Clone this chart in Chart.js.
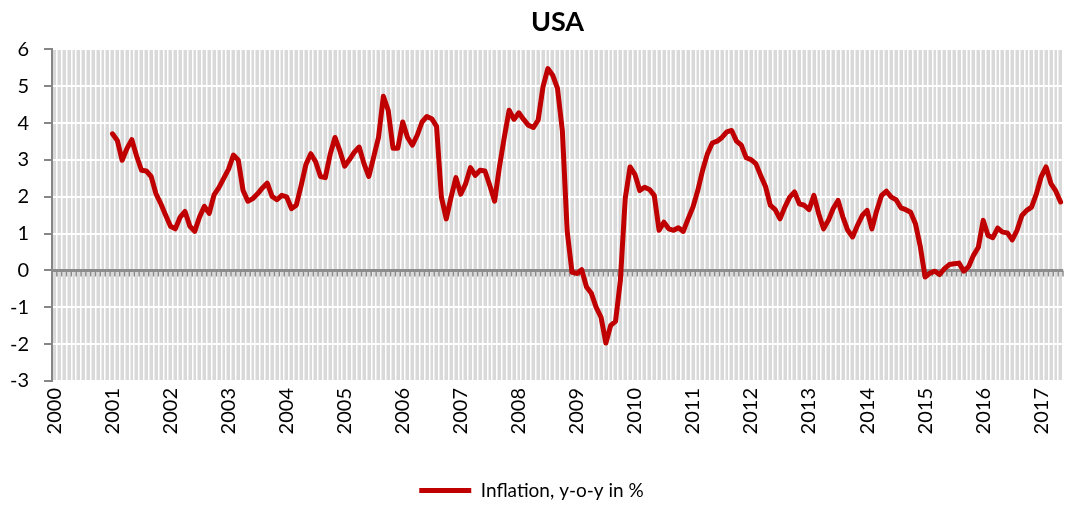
<!DOCTYPE html>
<html lang="en">
<head>
    <meta charset="UTF-8">
    <title>USA Inflation</title>
    <script src="https://cdn.jsdelivr.net/npm/chart.js"></script>
    <style>
        body {
            margin: 0;
            background: #ffffff;
            overflow: hidden;
        }
        canvas {
            display: block;
        }
    </style>
</head>
<body>
    <canvas id="usaChart" width="1065" height="510"></canvas>
    <script>
        // Tick labels: one per January
        const years = ['2000', '2001', '2002', '2003', '2004', '2005', '2006', '2007', '2008',
                       '2009', '2010', '2011', '2012', '2013', '2014', '2015', '2016', '2017'];
        const monthsInLastYear = 5; // series ends May 2017

        // CPI inflation, y-o-y in %, monthly
        const inf2000 = [null, null, null, null, null, null, null, null, null, null, null, null];
        const inf2001 = [3.71, 3.53, 2.99, 3.31, 3.55, 3.10, 2.72, 2.70, 2.55, 2.08, 1.81, 1.50];
        const inf2002 = [1.20, 1.13, 1.45, 1.60, 1.20, 1.06, 1.45, 1.74, 1.55, 2.05, 2.25, 2.50];
        const inf2003 = [2.75, 3.13, 3.00, 2.17, 1.88, 1.95, 2.08, 2.24, 2.37, 2.01, 1.92, 2.04];
        const inf2004 = [2.00, 1.68, 1.77, 2.30, 2.88, 3.17, 2.95, 2.55, 2.52, 3.15, 3.61, 3.25];
        const inf2005 = [2.83, 3.01, 3.21, 3.35, 2.90, 2.55, 3.08, 3.61, 4.73, 4.35, 3.32, 3.32];
        const inf2006 = [4.03, 3.61, 3.40, 3.67, 4.03, 4.18, 4.12, 3.91, 1.99, 1.40, 1.99, 2.52];
        const inf2007 = [2.07, 2.35, 2.79, 2.58, 2.72, 2.70, 2.31, 1.88, 2.81, 3.61, 4.35, 4.10];
        const inf2008 = [4.28, 4.10, 3.94, 3.88, 4.08, 4.98, 5.48, 5.30, 4.94, 3.80, 1.07, -0.05];
        const inf2009 = [-0.08, 0.02, -0.45, -0.62, -1.00, -1.27, -1.97, -1.49, -1.38, -0.27, 1.95, 2.81];
        const inf2010 = [2.61, 2.17, 2.26, 2.20, 2.04, 1.09, 1.31, 1.13, 1.09, 1.16, 1.06, 1.40];
        const inf2011 = [1.72, 2.17, 2.72, 3.17, 3.46, 3.51, 3.61, 3.76, 3.80, 3.51, 3.40, 3.06];
        const inf2012 = [3.01, 2.90, 2.58, 2.28, 1.77, 1.65, 1.40, 1.72, 1.99, 2.13, 1.81, 1.77];
        const inf2013 = [1.65, 2.04, 1.54, 1.13, 1.36, 1.68, 1.90, 1.45, 1.09, 0.91, 1.22, 1.49];
        const inf2014 = [1.63, 1.13, 1.63, 2.04, 2.15, 1.99, 1.92, 1.70, 1.65, 1.58, 1.27, 0.65];
        const inf2015 = [-0.18, -0.07, -0.02, -0.11, 0.05, 0.16, 0.18, 0.20, -0.02, 0.11, 0.41, 0.63];
        const inf2016 = [1.36, 0.95, 0.89, 1.15, 1.04, 1.02, 0.83, 1.09, 1.49, 1.63, 1.72, 2.08];
        const inf2017 = [2.55, 2.81, 2.36, 2.16, 1.86];

        const inflation = [].concat(inf2000, inf2001, inf2002, inf2003, inf2004, inf2005, inf2006,
            inf2007, inf2008, inf2009, inf2010, inf2011, inf2012, inf2013, inf2014, inf2015,
            inf2016, inf2017);

        // monthly categories 2000-01 .. 2017-05
        const months = [];
        years.forEach((yr, k) => {
            const count = k === years.length - 1 ? monthsInLastYear : 12;
            for (let m = 1; m <= count; m++) {
                months.push(yr + '-' + String(m).padStart(2, '0'));
            }
        });

        // gray plot area like the Excel original
        const plotBg = {
            id: 'plotBg',
            beforeDraw(chart) {
                const { ctx, chartArea: a } = chart;
                ctx.save();
                ctx.fillStyle = '#d9d9d9';
                ctx.fillRect(a.left, a.top, a.right - a.left, a.bottom - a.top);
                ctx.restore();
            }
        };

        // horizontal axis crosses at 0, with tick marks below it
        const zeroAxis = {
            id: 'zeroAxis',
            beforeDatasetsDraw(chart) {
                const { ctx, chartArea: a, scales } = chart;
                const y0 = scales.y.getPixelForValue(0);
                const step = scales.x.getPixelForValue(1) - scales.x.getPixelForValue(0);
                ctx.save();
                ctx.strokeStyle = '#8c8c8c';
                ctx.lineWidth = 1.5;
                ctx.beginPath();
                for (let i = 0; i <= months.length; i++) {
                    const px = scales.x.getPixelForValue(0) - step / 2 + i * step;
                    ctx.moveTo(px, y0);
                    ctx.lineTo(px, y0 + 6);
                }
                ctx.stroke();
                ctx.lineWidth = 3;
                ctx.beginPath();
                ctx.moveTo(a.left, y0);
                ctx.lineTo(a.right, y0);
                ctx.stroke();
                ctx.restore();
            }
        };

        const ctx = document.getElementById('usaChart').getContext('2d');
        const usaChart = new Chart(ctx, {
            type: 'line',
            data: {
                labels: months,
                datasets: [{
                    label: 'Inflation, y-o-y in %',
                    data: inflation,
                    borderColor: '#c00000',
                    backgroundColor: '#c00000',
                    borderWidth: 5,
                    pointRadius: 0,
                    tension: 0,
                    borderJoinStyle: 'round',
                    borderCapStyle: 'round',
                    spanGaps: false
                }]
            },
            options: {
                responsive: false,
                animation: false,
                layout: { padding: { left: 0, right: 2, top: 0, bottom: 0 } },
                plugins: {
                    title: {
                        display: true,
                        fullSize: false, // centre over the plot area
                        text: 'USA',
                        color: '#000',
                        font: { family: 'Lato', size: 27, weight: 'bold' },
                        padding: { top: 6, bottom: 11 }
                    },
                    legend: {
                        position: 'bottom',
                        labels: {
                            usePointStyle: true,
                            pointStyle: 'line',
                            pointStyleWidth: 52,
                            color: '#000',
                            font: { family: 'Lato', size: 19 },
                            padding: 8
                        }
                    },
                    tooltip: { enabled: false }
                },
                scales: {
                    x: {
                        offset: true,
                        grid: { offset: true, color: '#ffffff', lineWidth: 1.5, drawTicks: false },
                        border: { display: false },
                        ticks: {
                            autoSkip: false,
                            minRotation: 90,
                            maxRotation: 90,
                            padding: 7,
                            color: '#000',
                            font: { family: 'Lato', size: 20 },
                            callback: (v, i) => (i % 12 === 0 ? years[i / 12] : '')
                        },
                        afterFit: s => {
                            s.height = 92;
                            s.paddingLeft = 0;
                            s.paddingRight = 0;
                        }
                    },
                    y: {
                        min: -3,
                        max: 6,
                        ticks: {
                            stepSize: 1,
                            padding: 15,
                            color: '#000',
                            font: { family: 'Lato', size: 20 }
                        },
                        grid: { color: '#ffffff', lineWidth: 2, tickColor: '#868686', tickLength: 8 },
                        border: { color: '#868686', width: 2 },
                        afterFit: s => { s.width = 52; }
                    }
                }
            },
            plugins: [plotBg, zeroAxis]
        });
    </script>
</body>
</html>
